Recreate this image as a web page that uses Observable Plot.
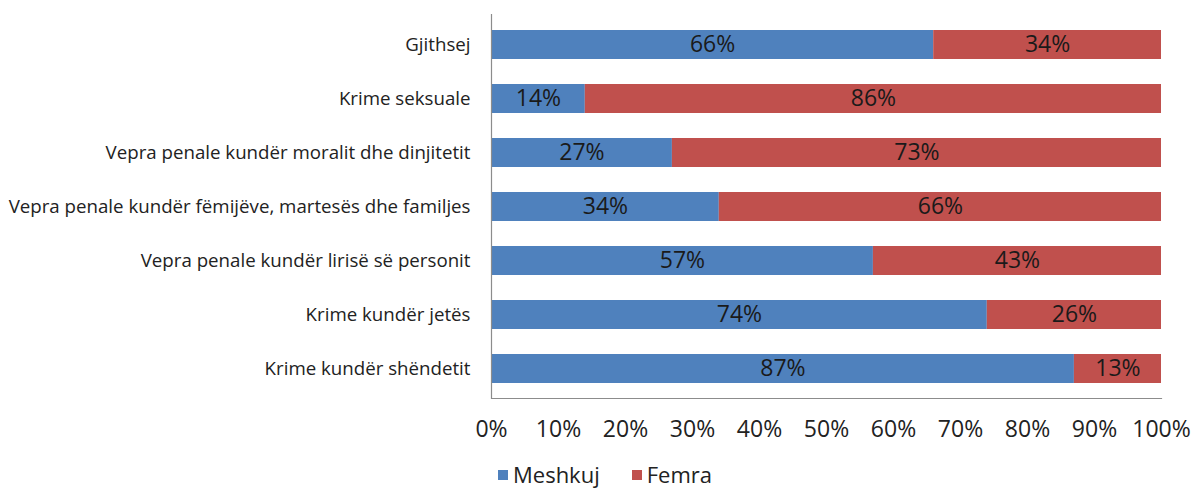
<!DOCTYPE html>
<html>
<head>
<meta charset="utf-8">
<script src="https://cdn.jsdelivr.net/npm/d3@7"></script>
<script src="https://cdn.jsdelivr.net/npm/@observablehq/plot@0.6"></script>
<style>
  html, body { margin: 0; padding: 0; background: #fff; overflow: hidden; }
  #chart { width: 1193px; }
  .legend { display: flex; gap: 32px; padding-left: 498px; font-family: "Open Sans", sans-serif; font-size: 22px; line-height: 29px; color: #222; height: 29px; align-items: center; }
  .legend span.sw { display: inline-block; width: 10px; height: 10px; margin-right: 5px; }
</style>
</head>
<body>
<div id="chart"></div>
<script>
const categories = [
  "Gjithsej",
  "Krime seksuale",
  "Vepra penale kundër moralit dhe dinjitetit",
  "Vepra penale kundër fëmijëve, martesës dhe familjes",
  "Vepra penale kundër lirisë së personit",
  "Krime kundër jetës",
  "Krime kundër shëndetit"
];
const series = ["Meshkuj", "Femra"];
const colors = ["#4F81BD", "#C0504D"];
const meshkuj = [66, 14, 27, 34, 57, 74, 87];
const femra = [34, 86, 73, 66, 43, 26, 13];
const xTicks = [0, 10, 20, 30, 40, 50, 60, 70, 80, 90, 100];

const data = [
  ...categories.map((c, i) => ({cat: c, series: "Meshkuj", value: meshkuj[i]})),
  ...categories.map((c, i) => ({cat: c, series: "Femra", value: femra[i]}))
];

const chart = Plot.plot({
  width: 1193,
  height: 460,
  marginLeft: 491,
  marginRight: 32,
  marginTop: 14,
  marginBottom: 62,
  style: {fontFamily: "Open Sans, sans-serif", color: "#222", background: "#fff"},
  x: {domain: [0, 100], ticks: xTicks, tickFormat: d => d + "%", label: null},
  y: {domain: categories, label: null, paddingInner: 0.47, paddingOuter: 0.25},
  color: {domain: series, range: colors},
  marks: [
    Plot.barX(data, Plot.stackX({x: "value", y: "cat", fill: "series", order: null})),
    Plot.textX(data, Plot.stackX({x: "value", y: "cat", z: "series", order: null, text: d => d.value + "%", fontSize: 23, fill: "#1a1a1a"})),
    Plot.axisX({ticks: xTicks, tickSize: 0, tickPadding: 22, fontSize: 23, tickFormat: d => d + "%", label: null, fill: "#222"}),
    Plot.axisY({tickSize: 0, tickPadding: 21, fontSize: 18.7, label: null, fill: "#222"}),
    Plot.ruleX([0], {stroke: "#8c8c8c", strokeWidth: 1.2}),
    Plot.frame({anchor: "bottom", stroke: "#8c8c8c", strokeWidth: 1.2})
  ]
});
document.getElementById("chart").appendChild(chart);

const legend = document.createElement("div");
legend.className = "legend";
series.forEach((s, i) => {
  const item = document.createElement("div");
  item.style.display = "flex";
  item.style.alignItems = "center";
  const sw = document.createElement("span");
  sw.className = "sw";
  sw.style.background = colors[i];
  item.appendChild(sw);
  item.appendChild(document.createTextNode(s));
  legend.appendChild(item);
});
document.getElementById("chart").appendChild(legend);
</script>
</body>
</html>
